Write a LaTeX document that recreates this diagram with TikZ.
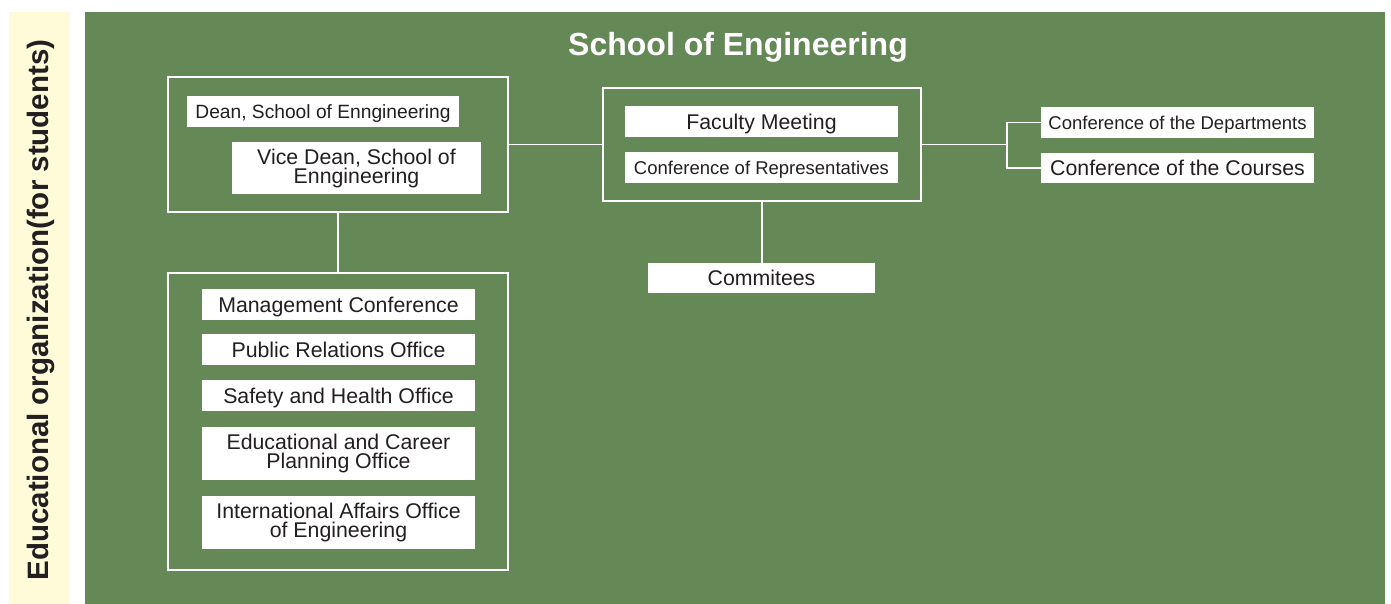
\documentclass[tikz,border=0pt]{standalone}
\usepackage{fontspec}
\setmainfont{Liberation Sans}
\definecolor{orggreen}{RGB}{101,137,86}
\definecolor{sidecream}{RGB}{255,251,217}
\definecolor{inkdark}{RGB}{35,31,32}
\newcommand{\lblfont}{\fontsize{21.3}{19}\selectfont}
\newcommand{\lblsmall}{\fontsize{18.5}{19}\selectfont}
\tikzset{
	unitbox/.style={fill=white, text=inkdark, inner sep=0pt, align=center, font=\lblfont},
	oneline/.style={unitbox, text depth=0pt},
	groupframe/.style={draw=white, line width=1.5pt},
	link/.style={draw=white, line width=1.5pt}
}
\begin{document}
\begin{tikzpicture}[x=1pt, y=-1pt]
		\useasboundingbox (0,0) rectangle (1391,604);
		\fill[sidecream] (9,12) rectangle (70,604);
		\fill[orggreen] (85,12) rectangle (1385,604);

		\node[rotate=90, text=inkdark, font=\bfseries\fontsize{29.5}{30}\selectfont] (side) at (41,310) {Educational organization(for students)};
		\node[anchor=base, text=white, font=\bfseries\fontsize{32}{34}\selectfont] (title) at (738,56) {School of Engineering};

		% dean group
		\node[groupframe, minimum width=340, minimum height=135] (deanbox) at (338,144.5) {};
		\node[oneline, font=\fontsize{19.2}{19}\selectfont, minimum width=272, minimum height=31] (dean) at (323,111.5) {Dean, School of Enngineering};
		\node[unitbox, minimum width=249, minimum height=52] (vicedean) at (356.5,168) {Vice Dean, School of\\Enngineering};

		% offices group
		\node[groupframe, minimum width=340, minimum height=297] (officebox) at (338,421.5) {};
		\node[oneline, minimum width=273, minimum height=31] (mgmt) at (338.5,304.5) {Management Conference};
		\node[oneline, minimum width=273, minimum height=31] (pr) at (338.5,349.5) {Public Relations Office};
		\node[oneline, minimum width=273, minimum height=31] (safety) at (338.5,395.5) {Safety and Health Office};
		\node[unitbox, minimum width=273, minimum height=53] (career) at (338.5,453.5) {Educational and Career\\Planning Office};
		\node[unitbox, minimum width=273, minimum height=53] (intl) at (338.5,522.5) {International Affairs Office\\of Engineering};

		% faculty group
		\node[groupframe, minimum width=318, minimum height=113] (facbox) at (762,144.5) {};
		\node[oneline, minimum width=273, minimum height=31] (faculty) at (761.5,121.5) {Faculty Meeting};
		\node[oneline, font=\lblsmall, minimum width=273, minimum height=31] (reps) at (761.5,167.5) {Conference of Representatives};
		\node[oneline, minimum width=227, minimum height=30] (comm) at (761.5,278) {Commitees};

		\node[oneline, font=\lblsmall, minimum width=273, minimum height=31] (depts) at (1177.5,122.5) {Conference of the Departments};
		\node[oneline, minimum width=273, minimum height=30] (courses) at (1177.5,168) {Conference of the Courses};
		\coordinate (fork) at (1007,144.5);

		\draw[link] (deanbox.south) -- (officebox.north);
		\draw[link] (deanbox.east) -- (facbox.west);
		\draw[link] (facbox.south) -- (facbox.south |- comm.north);
		\draw[link] (facbox.east) -- (fork);
		\draw[link] (depts.west) -| (fork) |- (courses.west);
	\end{tikzpicture}
\end{document}
